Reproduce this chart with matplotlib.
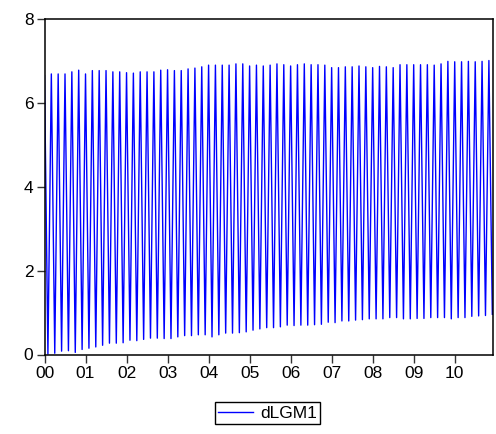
import matplotlib.pyplot as plt
import numpy as np

plt.rcParams['font.family'] = ['Liberation Sans', 'DejaVu Sans']

# monthly dLGM1, 2000M01 - 2010M12: odd months (Jan, Mar, ...) high, even months low
peaks = [6.65, 6.69, 6.69, 6.69, 6.74, 6.78, 6.69, 6.77, 6.77, 6.77,
         6.74, 6.74, 6.72, 6.71, 6.74, 6.74, 6.74, 6.78, 6.79, 6.77,
         6.77, 6.81, 6.83, 6.86, 6.90, 6.90, 6.90, 6.90, 6.93, 6.93,
         6.88, 6.90, 6.88, 6.90, 6.93, 6.91, 6.88, 6.91, 6.93, 6.91,
         6.91, 6.90, 6.84, 6.84, 6.86, 6.86, 6.88, 6.86, 6.84, 6.87,
         6.86, 6.84, 6.91, 6.91, 6.91, 6.91, 6.91, 6.90, 6.93, 6.99,
         6.98, 6.98, 6.99, 6.98, 6.99, 7.01]
troughs = [0.01, 0.03, 0.08, 0.09, 0.05, 0.12, 0.15, 0.18, 0.22, 0.27,
           0.27, 0.28, 0.34, 0.33, 0.36, 0.39, 0.39, 0.38, 0.38, 0.42,
           0.45, 0.45, 0.47, 0.47, 0.42, 0.47, 0.51, 0.51, 0.52, 0.54,
           0.58, 0.61, 0.64, 0.64, 0.66, 0.70, 0.69, 0.70, 0.70, 0.71,
           0.72, 0.77, 0.76, 0.80, 0.80, 0.82, 0.83, 0.85, 0.85, 0.85,
           0.88, 0.88, 0.85, 0.85, 0.86, 0.86, 0.88, 0.88, 0.88, 0.85,
           0.88, 0.88, 0.91, 0.92, 0.93, 0.96]
year_labels = ['00', '01', '02', '03', '04', '05', '06', '07', '08', '09', '10']

series = np.empty(len(peaks) + len(troughs))
series[0::2] = peaks
series[1::2] = troughs
months = np.arange(len(series))

fig = plt.figure(figsize=(4.96, 4.34), dpi=100)
ax = fig.add_axes([44.5 / 496, 1 - 354.5 / 434, (493 - 44.5) / 496, (354.5 - 19) / 434])

line, = ax.plot(months, series, color='#0000ff', lw=1.0)

ax.set_xlim(0, 131.2)
ax.set_ylim(0, 8)
ax.set_yticks([0, 2, 4, 6, 8])
ax.set_xticks(np.arange(0, 132, 12))
ax.set_xticklabels(year_labels)
ax.tick_params(direction='out', length=6, width=1, labelsize=12.5, pad=2,
               color='#333333', labelcolor='black')
for s in ax.spines.values():
    s.set_linewidth(1.1)
    s.set_color('black')

fig.legend([line], ['dLGM1'], loc='center', bbox_to_anchor=(267.5 / 496, 1 - 413 / 434),
           fontsize=12.5, frameon=True, fancybox=False, edgecolor='black',
           framealpha=1, handlelength=2.0, handletextpad=0.4, borderpad=0.2,
           borderaxespad=0)

fig.savefig('out.png', dpi=100)
